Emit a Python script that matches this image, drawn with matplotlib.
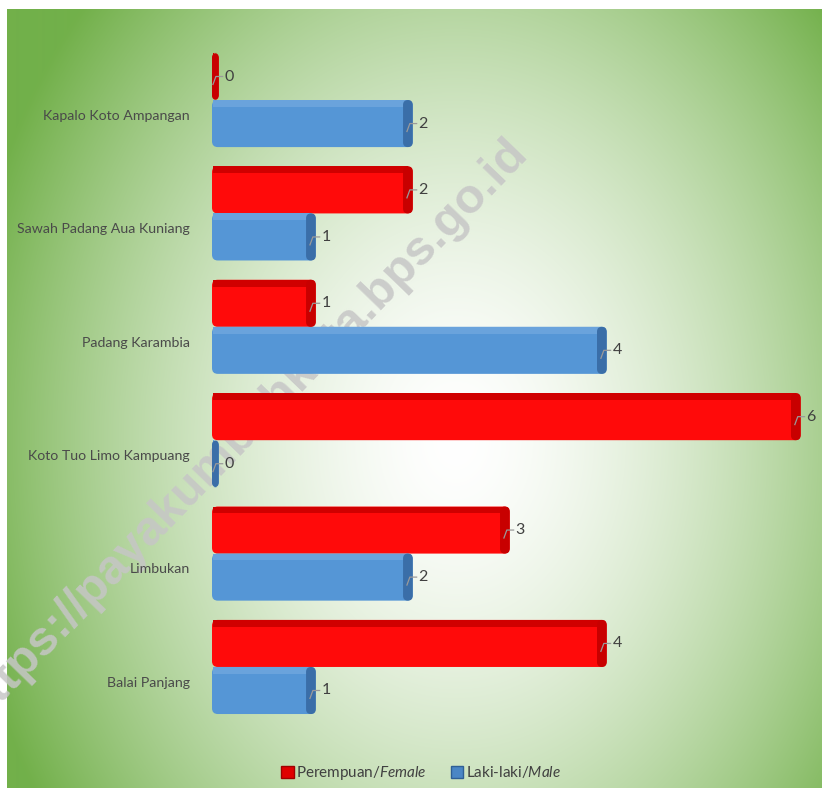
import numpy as np
import matplotlib
matplotlib.use('Agg')
import matplotlib.pyplot as plt
from matplotlib.patches import FancyBboxPatch, Rectangle, Patch

plt.rcParams['font.family'] = ['Lato', 'DejaVu Sans']
plt.rcParams['mathtext.fontset'] = 'custom'
plt.rcParams['mathtext.rm'] = 'Lato'
plt.rcParams['mathtext.it'] = 'Lato:italic'

# data, top to bottom
villages = ['Kapalo Koto Ampangan', 'Sawah Padang Aua Kuniang', 'Padang Karambia',
            'Koto Tuo Limo Kampuang', 'Limbukan', 'Balai Panjang']
female = [0, 2, 1, 6, 3, 4]
male = [2, 1, 4, 0, 2, 1]
series_names = ['Perempuan/$\\it{Female}$', 'Laki-laki/$\\it{Male}$']

W, H = 822, 797
fig = plt.figure(figsize=(W / 100, H / 100), dpi=100)
fig.patch.set_facecolor('white')

# radial green gradient background
bx0, by0, bx1, by1 = 7, 9, 822, 788
bg = fig.add_axes([bx0 / W, (H - by1) / H, (bx1 - bx0) / W, (by1 - by0) / H])
bg.set_zorder(-2)
xx, yy = np.meshgrid(np.arange(bx0, bx1), np.arange(by0, by1))
t = np.sqrt(((xx - 455) / 500.0) ** 2 + ((yy - 440) / 650.0) ** 2)
t = np.clip(t, 0, 1) ** 1.6
white = np.array([1.0, 1.0, 1.0])
green = np.array([0x72, 0xb0, 0x4a]) / 255.0
img = white[None, None, :] + (green - white)[None, None, :] * t[..., None]
bg.imshow(img, aspect='auto', interpolation='bilinear')
bg.axis('off')

# watermark, behind the bars
fig.text(245 / W, 1 - 430 / H, 'https://payakumbuhkota.bps.go.id', rotation=46,
         ha='center', va='center', fontsize=35, fontweight='bold',
         family='Liberation Sans', color='#c6c6c6', alpha=0.85, zorder=-1)

# main axes
ax_top, ax_bot = 32, 735
ax = fig.add_axes([212 / W, (H - ax_bot) / H, (822 - 212) / W, (ax_bot - ax_top) / H])
ax.set_facecolor('none')
for s in ax.spines.values():
    s.set_visible(False)
ax.set_xlim(0, 6.29)
ax.set_ylim(5.6, -0.6)
ax.set_xticks([])

y = np.arange(len(villages))
h = 0.415
depth = 0.07
bars_f = ax.barh(y - h / 2, np.array(female) + depth, height=h, color='#ff0000')
bars_m = ax.barh(y + h / 2, np.array(male) + depth, height=h, color='#4f8fd0')

aspect = (1 / 113.4) / (1 / 97.0)
styles = [
    (bars_f, female, '#ff0a0a', '#c80000', '#d00000'),
    (bars_m, male, '#5596d6', '#3a6ea8', '#6aa3dc'),
]
for bars, vals, face, endc, topc in styles:
    for b, v in zip(bars, vals):
        bx, by, bw, bh = b.get_x(), b.get_y(), b.get_width(), b.get_height()
        b.set_visible(False)
        ax.add_patch(FancyBboxPatch((bx, by), bw, bh,
                                    boxstyle='round,pad=0,rounding_size=0.06',
                                    mutation_aspect=aspect, fc=face, ec='none', zorder=3))
        # top strip (3d look)
        ax.add_patch(Rectangle((bx + 0.01, by), max(bw - 0.06, 0), 0.06,
                               fc=topc, ec='none', zorder=3.5))
        # end face
        ew = min(0.1, bw)
        ax.add_patch(FancyBboxPatch((bx + bw - ew, by), ew, bh,
                                    boxstyle='round,pad=0,rounding_size=0.05',
                                    mutation_aspect=aspect, fc=endc, ec='none', zorder=4))
        end = bx + bw
        yc = by + bh / 2
        ax.plot([end - 0.06, end - 0.03, end + 0.04], [yc + 0.07, yc, yc],
                color='#9a9a9a', lw=0.9, zorder=5)
        ax.text(end + 0.06, yc, str(v), va='center', ha='left',
                fontsize=11.5, color='#404040', zorder=6)

ax.set_yticks(y + 0.13)
ax.set_yticklabels(villages, fontsize=10.2, color='#4a4a4a')
ax.tick_params(axis='y', length=0, pad=16)

# legend
handles = [Patch(fc='#e00000', ec='#a00000'), Patch(fc='#4a86c5', ec='#2f5f95')]
fig.legend(handles, series_names, loc='center', bbox_to_anchor=(421 / W, 1 - 773 / H),
           ncol=2, frameon=False, fontsize=11, handlelength=0.8, handleheight=0.8,
           handletextpad=0.15, columnspacing=1.6, labelcolor='#404040')

fig.savefig('out.png', dpi=100)
